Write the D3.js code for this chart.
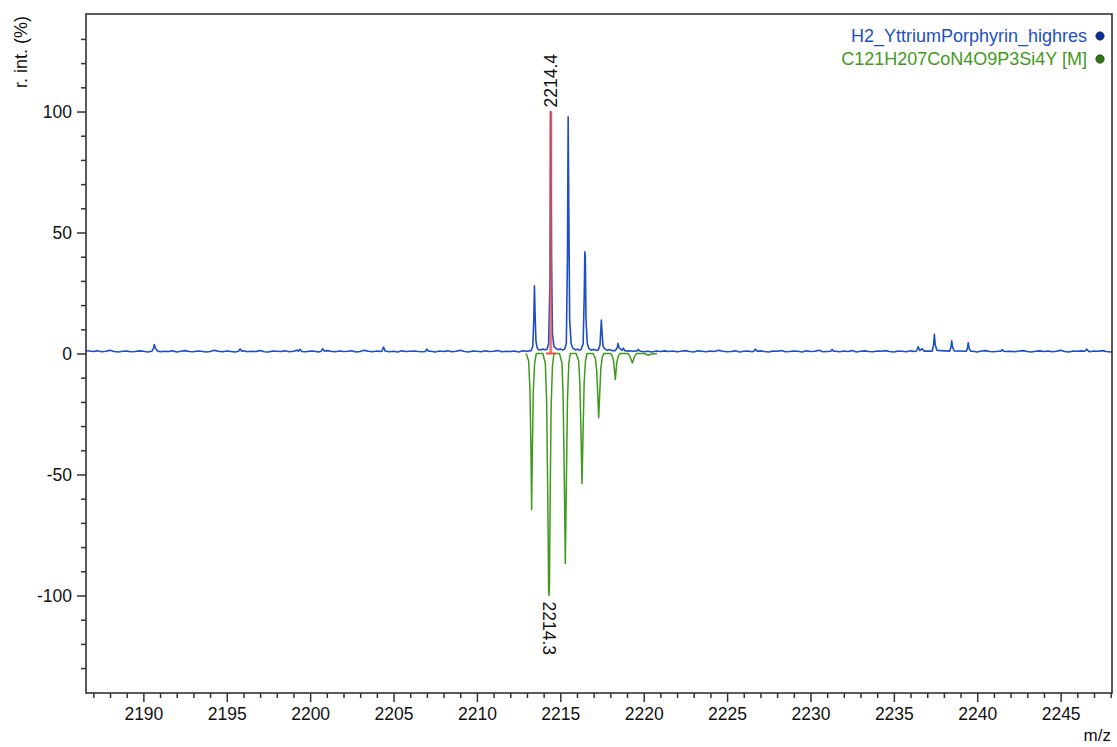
<!DOCTYPE html>
<html>
<head>
<meta charset="utf-8">
<script src="https://cdn.jsdelivr.net/npm/d3@7"></script>
<style>
  body{margin:0;background:#fff;}
  svg{display:block;font-family:"Liberation Sans",Arial,sans-serif;}
</style>
</head>
<body>
<svg id="chart" width="1117" height="747"></svg>
<script>
//-----------------------------------------------------------------------------
// DATA
var seriesNames = ["H2_YttriumPorphyrin_highres", "C121H207CoN4O9P3Si4Y [M]"];
var xTickValues = [2190, 2195, 2200, 2205, 2210, 2215, 2220, 2225, 2230, 2235, 2240, 2245];
var yTickValues = [-100, -50, 0, 50, 100];

// measured spectrum: baseline noise sampled every 0.25 m/z from 2186.5
var noiseStart = 2186.5, noiseStep = 0.25;
var blueNoise = [
  1.2,1.0,0.8,1.1,0.7,0.9,1.3,0.8,0.6,0.9,1.0,0.7,0.8,1.1,0.9,0.6,0.8,1.0,0.7,0.9,
  0.8,1.1,0.6,0.9,1.2,0.8,0.7,1.0,0.9,0.6,0.8,1.3,0.9,0.7,1.0,0.8,0.6,0.9,1.1,0.7,
  0.9,0.8,1.2,0.7,0.6,1.0,0.9,0.8,1.1,0.7,0.9,1.4,0.8,0.7,1.0,0.9,0.6,0.8,1.2,0.9,
  0.7,1.0,0.8,0.9,1.1,0.6,0.8,1.3,0.9,0.7,1.0,0.8,1.2,0.7,0.9,0.6,1.1,0.8,0.9,1.0,
  0.8,0.7,1.2,0.9,0.6,1.0,0.8,1.1,0.7,0.9,1.3,0.8,0.6,1.0,0.9,0.7,1.1,0.8,0.9,1.2,
  0.7,0.9,0.8,1.0,0.6,1.1,0.9,0.7,1.2,0.8,1.0,0.9,0.6,0.8,1.3,0.9,0.7,1.0,0.8,1.1,
  0.9,0.7,0.8,1.2,0.9,0.6,1.0,0.8,1.1,0.7,0.9,1.0,0.8,1.4,0.7,0.9,0.6,1.0,0.8,1.1,
  0.8,1.0,0.7,0.9,1.2,0.8,0.6,1.1,0.9,0.7,1.0,0.8,1.3,0.9,0.7,0.8,1.1,0.6,0.9,1.0,
  0.7,0.9,1.1,0.8,0.6,1.0,0.9,1.2,0.7,0.8,1.0,0.9,0.6,1.1,0.8,0.9,1.3,0.7,0.8,1.0,
  0.9,0.7,1.0,0.8,1.2,0.6,0.9,1.1,0.8,0.7,1.0,0.9,1.2,0.8,0.6,1.0,0.9,0.7,1.1,0.8,
  1.0,0.8,0.7,1.2,0.9,0.6,1.0,0.8,1.1,0.9,0.7,1.3,0.8,0.9,0.6,1.0,1.2,0.8,0.7,0.9,
  1.1,0.8,0.9,0.7,1.0,1.2,0.8,0.6,0.9,1.1,0.8,1.0,0.7,0.9,1.3,0.8,0.6,1.0,0.9,1.1,
  0.8,0.7,1.0,0.9,1.2,0.8,0.6,1.1,0.9,0.8,1.0,0.7,1.2,0.9,0.8,1.0,0.6,0.9,1.1,0.8
];

// measured spectrum: peak profiles [m/z, r. int. %]
var bluePeaks = [
  [[2190.5,0.9],[2190.6,2.0],[2190.66,3.7],[2190.72,2.2],[2190.85,1.0]],
  [[2195.7,0.9],[2195.8,1.9],[2195.9,0.9]],
  [[2199.3,0.9],[2199.4,1.7],[2199.5,0.8]],
  [[2200.65,0.9],[2200.75,2.0],[2200.85,1.0]],
  [[2204.3,0.9],[2204.4,2.7],[2204.5,1.0]],
  [[2206.9,0.8],[2207.0,1.8],[2207.1,0.9]],
  [[2213.25,1.2],[2213.35,3.0],[2213.41,14],[2213.45,28],[2213.49,16],[2213.54,5],[2213.62,2.2],[2213.7,1.5],
   [2213.85,1.6],[2214.0,1.8],[2214.1,1.5],
   [2214.2,1.8],[2214.3,4.0],[2214.38,30],[2214.43,100],[2214.47,40],[2214.53,8],[2214.62,3.0],[2214.72,2.2],
   [2214.85,1.6],[2215.0,1.9],[2215.15,1.4],
   [2215.25,1.8],[2215.36,4.0],[2215.43,40],[2215.47,97.8],[2215.51,60],[2215.56,14],[2215.65,4.0],[2215.75,2.2],
   [2215.9,1.5],[2216.05,1.8],[2216.15,1.3],
   [2216.25,1.7],[2216.37,4.0],[2216.44,26],[2216.47,42],[2216.5,40],[2216.54,14],[2216.62,4.0],[2216.72,2.0],
   [2216.85,1.4],[2217.0,1.7],[2217.15,1.3],
   [2217.28,1.5],[2217.38,3.5],[2217.43,10],[2217.46,13.8],[2217.5,9],[2217.56,3.0],[2217.66,2.0],
   [2217.8,1.3],[2217.95,1.6],[2218.1,1.2],
   [2218.3,1.2],[2218.42,2.5],[2218.46,4.2],[2218.52,2.5],[2218.62,1.8],[2218.7,1.3],[2218.78,2.2],[2218.86,1.2],
   [2219.0,1.0],[2219.2,1.1],[2219.35,0.9],[2219.6,1.1],[2219.68,1.7],[2219.76,1.0]],
  [[2226.6,0.9],[2226.7,1.8],[2226.8,0.9]],
  [[2231.2,0.9],[2231.3,1.6],[2231.4,0.9]],
  [[2236.35,0.9],[2236.46,2.8],[2236.56,1.2],[2236.7,2.0],[2236.8,1.0],
   [2237.3,1.0],[2237.38,3.5],[2237.43,7.9],[2237.48,3.6],[2237.58,1.3],
   [2238.35,1.0],[2238.43,2.8],[2238.47,5.2],[2238.52,2.6],[2238.62,1.1],
   [2239.35,0.9],[2239.42,2.4],[2239.46,4.4],[2239.51,2.2],[2239.6,1.0]],
  [[2241.4,0.9],[2241.5,1.6],[2241.6,0.9]],
  [[2246.45,0.9],[2246.56,1.8],[2246.66,1.0]]
];

// theoretical isotope pattern [m/z, r. int. %] (drawn mirrored)
var greenProfile = [
  [2212.95,0],[2213.1,-3],[2213.18,-15],[2213.24,-40],[2213.28,-64.5],[2213.32,-42],[2213.38,-16],[2213.46,-4],[2213.56,0],
  [2213.95,0],[2214.1,-4],[2214.18,-20],[2214.25,-60],[2214.3,-98],[2214.32,-100],[2214.35,-96],[2214.39,-60],[2214.45,-22],[2214.53,-5],[2214.62,0],
  [2214.95,0],[2215.1,-4],[2215.17,-18],[2215.24,-52],[2215.3,-86.8],[2215.36,-55],[2215.43,-19],[2215.51,-4],[2215.6,0],
  [2215.95,0],[2216.1,-3],[2216.17,-12],[2216.24,-32],[2216.3,-53.8],[2216.36,-34],[2216.43,-12],[2216.51,-3],[2216.6,0],
  [2216.97,0],[2217.1,-2],[2217.18,-7],[2217.24,-16],[2217.3,-26.6],[2217.36,-17],[2217.43,-6],[2217.52,-1.5],[2217.6,0],
  [2218.0,0],[2218.12,-1],[2218.2,-3.5],[2218.3,-10.7],[2218.38,-4],[2218.48,-1],[2218.58,0],
  [2219.05,0],[2219.18,-1.2],[2219.32,-3.9],[2219.45,-1.2],[2219.58,0],
  [2220.05,0],[2220.2,-0.5],[2220.28,-0.8],[2220.4,-0.3],[2220.8,0]
];

// matched peak stick and peak labels
var matchStick = [{mz: 2214.43, value: 100}];
var peakLabels = [
  {mz: 2214.43, value: 100,  text: "2214.4"},
  {mz: 2214.32, value: -100, text: "2214.3"}
];

//-----------------------------------------------------------------------------
// CONFIG
var config = {
  'left'   : 86,
  'right'  : 1112,
  'top'    : 14,
  'bottom' : 693,
  'xDomain': [2186.56, 2248.08],
  'yDomain': [-140.3, 140.3],
  'blue'   : "#1c4fc6",
  'green'  : "#3f9a1c",
  'red'    : "#e8504a",
  'axis'   : "#333333",
  'font'   : 17.5
};

//-----------------------------------------------------------------------------
// BUILD MEASURED TRACE
var spans = bluePeaks.map(function(p){ return [p[0][0], p[p.length-1][0]]; });
var blueTrace = [];
blueNoise.forEach(function(v, i){
  var mz = noiseStart + i*noiseStep;
  var inside = spans.some(function(s){ return mz >= s[0] && mz <= s[1]; });
  if (!inside) blueTrace.push([mz, v]);
});
bluePeaks.forEach(function(p){ p.forEach(function(pt){ blueTrace.push(pt); }); });
blueTrace.sort(function(a, b){ return a[0] - b[0]; });

//-----------------------------------------------------------------------------
// RENDER
var svg = d3.select("#chart");

var x = d3.scaleLinear().domain(config.xDomain).range([config.left, config.right]);
var y = d3.scaleLinear().domain(config.yDomain).range([config.bottom, config.top]);

svg.append("defs").append("clipPath").attr("id", "plotclip")
   .append("rect")
   .attr("x", config.left).attr("y", config.top)
   .attr("width", config.right - config.left)
   .attr("height", config.bottom - config.top);

var line = d3.line()
  .x(function(d){ return x(d[0]); })
  .y(function(d){ return y(d[1]); });

var plot = svg.append("g").attr("clip-path", "url(#plotclip)");

plot.append("path")
    .datum(greenProfile)
    .attr("fill", "none")
    .attr("stroke", config.green)
    .attr("stroke-width", 1.5)
    .attr("stroke-linejoin", "round")
    .attr("d", line);

plot.append("path")
    .datum(blueTrace)
    .attr("fill", "none")
    .attr("stroke", config.blue)
    .attr("stroke-width", 1.6)
    .attr("stroke-linejoin", "round")
    .attr("d", line);

plot.selectAll("line.stick").data(matchStick).enter()
    .append("line").attr("class", "stick")
    .attr("x1", function(d){ return x(d.mz); })
    .attr("x2", function(d){ return x(d.mz); })
    .attr("y1", y(0))
    .attr("y2", function(d){ return y(d.value); })
    .attr("stroke", config.red)
    .attr("stroke-opacity", 0.75)
    .attr("stroke-width", 3);

plot.selectAll("line.stickbase").data(matchStick).enter()
    .append("line").attr("class", "stickbase")
    .attr("x1", function(d){ return x(d.mz) - 5; })
    .attr("x2", function(d){ return x(d.mz) + 5; })
    .attr("y1", y(0)).attr("y2", y(0))
    .attr("stroke", config.red)
    .attr("stroke-width", 2);

// peak labels
svg.selectAll("text.peak").data(peakLabels).enter()
   .append("text").attr("class", "peak")
   .attr("transform", function(d){
     return d.value > 0
       ? "translate(" + x(d.mz) + "," + (y(d.value) - 4) + ") rotate(-90)"
       : "translate(" + x(d.mz) + "," + (y(d.value) + 6) + ") rotate(90)";
   })
   .attr("dy", "0.35em")
   .attr("font-size", config.font)
   .attr("fill", "#111")
   .text(function(d){ return d.text; });

//-----------------------------------------------------------------------------
// AXES
var plainFormat = function(d){ return String(d); };
var xMinor = d3.range(2187, 2249, 1).filter(function(v){ return v % 5 !== 0; });
var yMinor = d3.range(-130, 140, 10).filter(function(v){ return v % 50 !== 0; });

svg.append("g").attr("transform", "translate(0," + config.bottom + ")")
  .call(d3.axisBottom(x).tickValues(xTickValues).tickSize(9).tickPadding(6).tickFormat(plainFormat));
svg.append("g").attr("transform", "translate(0," + config.bottom + ")")
  .call(d3.axisBottom(x).tickValues(xMinor).tickSize(5).tickFormat(""));

svg.append("g").attr("transform", "translate(" + config.left + ",0)")
  .call(d3.axisLeft(y).tickValues(yTickValues).tickSize(9).tickPadding(5).tickFormat(plainFormat));
svg.append("g").attr("transform", "translate(" + config.left + ",0)")
  .call(d3.axisLeft(y).tickValues(yMinor).tickSize(5).tickFormat(""));

svg.selectAll(".domain").remove();
svg.selectAll(".tick line").attr("stroke", config.axis).attr("stroke-width", 1.5);
svg.selectAll(".tick text").attr("font-size", config.font).attr("fill", "#111")
   .attr("font-family", '"Liberation Sans",Arial,sans-serif');

// frame
svg.append("rect")
   .attr("x", config.left).attr("y", config.top)
   .attr("width", config.right - config.left)
   .attr("height", config.bottom - config.top)
   .attr("fill", "none")
   .attr("stroke", config.axis)
   .attr("stroke-width", 1.6);

// axis titles
svg.append("text")
   .attr("transform", "translate(27,52) rotate(-90)")
   .attr("text-anchor", "middle")
   .attr("font-size", 18)
   .attr("fill", "#111")
   .text("r. int. (%)");

svg.append("text")
   .attr("x", 1111).attr("y", 741)
   .attr("text-anchor", "end")
   .attr("font-size", 17)
   .attr("fill", "#111")
   .text("m/z");

//-----------------------------------------------------------------------------
// LEGEND
var legendColors = [config.blue, config.green];
var legendDot = ["#0f2f9a", "#2a7a10"];
var legend = svg.selectAll("g.legend").data(seriesNames).enter()
  .append("g").attr("class", "legend")
  .attr("transform", function(d, i){ return "translate(0," + (36 + i*23) + ")"; });

legend.append("text")
  .attr("x", 1087).attr("dy", "0.35em")
  .attr("text-anchor", "end")
  .attr("font-size", 18)
  .attr("fill", function(d, i){ return legendColors[i]; })
  .text(function(d){ return d; });

legend.append("circle")
  .attr("cx", 1100).attr("r", 4.2)
  .attr("fill", function(d, i){ return legendDot[i]; })
  .attr("stroke", "#222").attr("stroke-width", 0.6);
</script>
</body>
</html>
